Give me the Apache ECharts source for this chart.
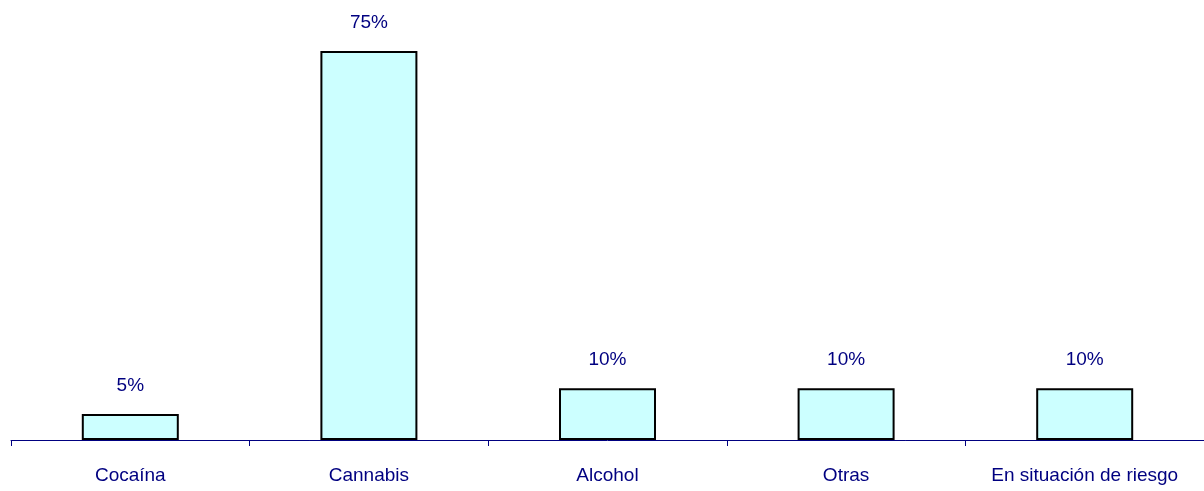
<!DOCTYPE html>
<html>
<head>
<meta charset="utf-8">
<script src="https://cdn.jsdelivr.net/npm/echarts@6/dist/echarts.min.js"></script>
<style>
  html, body { margin: 0; padding: 0; background: #fff; }
  #chart { width: 1204px; height: 491px; }
</style>
</head>
<body>
<div id="chart"></div>
<script>
var categories = ['Cocaína', 'Cannabis', 'Alcohol', 'Otras', 'En situación de riesgo'];
var values = [5, 75, 10, 10, 10];

var myChart = echarts.init(document.getElementById('chart'));

var option = {
  animation: false,
  grid: { left: 11, top: 25, width: 1195, height: 415 },
  xAxis: {
    type: 'category',
    data: categories,
    axisLine: { lineStyle: { color: '#000080', width: 1 } },
    axisTick: { show: true, interval: 0, length: 6, lineStyle: { color: '#000080' } },
    axisLabel: {
      interval: 0,
      hideOverlap: false,
      color: '#000080',
      fontFamily: 'Liberation Sans',
      fontSize: 19,
      margin: 26
    }
  },
  yAxis: {
    type: 'value',
    min: 0,
    max: 80,
    show: false,
    splitLine: { show: false }
  },
  series: [{
    type: 'bar',
    data: values,
    barWidth: 97,
    itemStyle: { color: '#CCFFFF', borderColor: '#000000', borderWidth: 2 },
    label: {
      show: true,
      position: 'top',
      distance: 19,
      formatter: '{c}%',
      color: '#000080',
      fontFamily: 'Liberation Sans',
      fontSize: 19
    }
  }]
};

myChart.setOption(option);
</script>
</body>
</html>
